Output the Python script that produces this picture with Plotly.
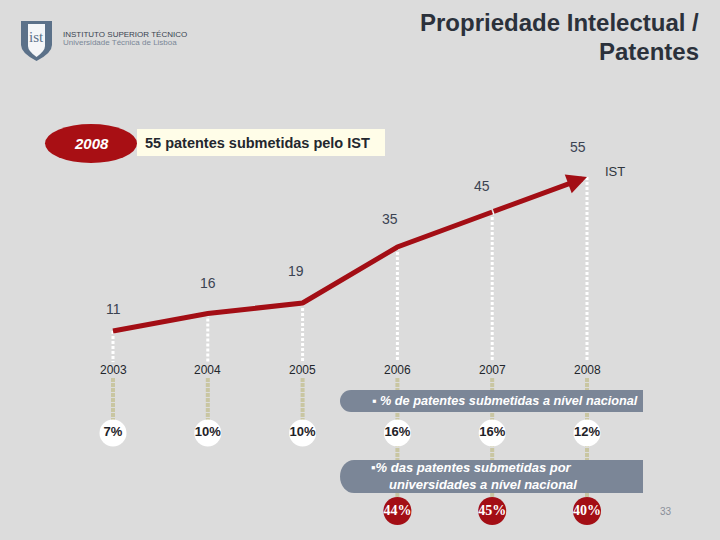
import plotly.graph_objects as go

# ---------------- data ----------------
years = [2003, 2004, 2005, 2006, 2007, 2008]
year_labels = ["2003", "2004", "2005", "2006", "2007", "2008"]
patents_ist = [11, 16, 19, 35, 45, 55]
pct_national = [7, 10, 10, 16, 16, 12]
univ_years = [2006, 2007, 2008]
pct_univ = [44, 45, 40]

# ---------------- layout constants ----------------
W, H = 720, 540
BG = "#dcdcdc"
RED = "#a30e15"
SLATE = "#7b8697"
KHAKI = "#c9c6a2"
FONT = "Liberation Sans, Arial, sans-serif"
NARROW = "Liberation Sans Narrow, Arial Narrow, Liberation Sans, sans-serif"
SERIF = "Liberation Serif, Times New Roman, serif"

# x axis: year -> pixel mapping
X0_PX, DX_PX = 113.0, 94.8
x_range = [2003 - X0_PX / DX_PX, 2003 + (W - X0_PX) / DX_PX]
# y axis: value -> pixel mapping
PX_PER_UNIT, REF_VAL, REF_PX = 3.5, 11.0, 331.0
y_range = [REF_VAL - (H - REF_PX) / PX_PER_UNIT, REF_VAL + REF_PX / PX_PER_UNIT]


def row(py):
    """pixel row -> y value"""
    return REF_VAL + (REF_PX - py) / PX_PER_UNIT


def px(x):
    return x / W


def py(y):
    return 1 - y / H


label_dx = [0, 0, -7, -7, -10, -9]
label_dy = [22, 31, 32, 28, 26, 30]

fig = go.Figure()

# white dotted drop lines (value -> above year label)
xs, ys = [], []
for yr, v in zip(years, patents_ist):
    xs += [yr, yr, None]
    ys += [v, row(362), None]
fig.add_trace(go.Scatter(x=xs, y=ys, mode="lines", hoverinfo="skip",
                         line=dict(color="white", width=3, dash="3px,2px")))

# khaki dotted lines below year labels
xs, ys = [], []
for yr in years:
    end = 498 if yr in univ_years else 420
    xs += [yr, yr, None]
    ys += [row(378), row(end), None]
fig.add_trace(go.Scatter(x=xs, y=ys, mode="lines", hoverinfo="skip",
                         line=dict(color=KHAKI, width=4, dash="4px,1px")))

# main red line (last segment drawn as arrow)
fig.add_trace(go.Scatter(x=years[:-1], y=patents_ist[:-1], mode="lines",
                         hoverinfo="skip", line=dict(color=RED, width=5)))

# national % circles
fig.add_trace(go.Scatter(
    x=years, y=[row(433)] * len(years), mode="markers+text",
    marker=dict(size=27, color="white", line=dict(width=0)),
    text=[f"<b>{p}%</b>" for p in pct_national], textposition="middle center",
    textfont=dict(family=NARROW, size=13, color="#1f2328"), hoverinfo="skip"))

# university % circles
fig.add_trace(go.Scatter(
    x=univ_years, y=[row(511)] * len(univ_years), mode="markers+text",
    marker=dict(size=28, color=RED, line=dict(width=0)),
    text=[f"<b>{p}%</b>" for p in pct_univ], textposition="middle center",
    textfont=dict(family=SERIF, size=14, color="white"), hoverinfo="skip"))

annotations = []
# arrow for the last segment
annotations.append(dict(
    x=years[-1], y=patents_ist[-1], ax=years[-2], ay=patents_ist[-2],
    xref="x", yref="y", axref="x", ayref="y", text="", showarrow=True,
    arrowhead=2, arrowsize=0.8, arrowwidth=5, arrowcolor=RED, standoff=0))

# value labels
for i, (yr, v) in enumerate(zip(years, patents_ist)):
    annotations.append(dict(x=yr, y=v, xref="x", yref="y", text=str(v),
                            showarrow=False, xshift=label_dx[i], yshift=label_dy[i],
                            font=dict(family=FONT, size=14, color="#3b4352")))
annotations.append(dict(x=years[-1], y=patents_ist[-1], xref="x", yref="y",
                        text="IST", showarrow=False, xshift=28, yshift=6,
                        font=dict(family=FONT, size=13, color="#30353d")))

# year labels
for yr, lab in zip(years, year_labels):
    annotations.append(dict(x=yr, y=row(370), xref="x", yref="y", text=lab,
                            showarrow=False,
                            font=dict(family=FONT, size=12, color="#22262c")))

# header / title
annotations += [
    dict(x=px(701), y=py(22), xref="paper", yref="paper", xanchor="right",
         yanchor="middle", showarrow=False,
         text="<b>Propriedade Intelectual /</b>",
         font=dict(family=FONT, size=24, color="#2b313b")),
    dict(x=px(701), y=py(51), xref="paper", yref="paper", xanchor="right",
         yanchor="middle", showarrow=False,
         text="<b>Patentes</b>",
         font=dict(family=FONT, size=24, color="#2b313b")),
    dict(x=px(61), y=py(34), xref="paper", yref="paper", xanchor="left",
         yanchor="middle", showarrow=False, text="INSTITUTO SUPERIOR TÉCNICO",
         font=dict(family=FONT, size=8, color="#3a4350")),
    dict(x=px(61), y=py(43), xref="paper", yref="paper", xanchor="left",
         yanchor="middle", showarrow=False, text="Universidade Técnica de Lisboa",
         font=dict(family=FONT, size=8, color="#7a8797")),
    dict(x=px(36.5), y=py(37), xref="paper", yref="paper", xanchor="center",
         yanchor="middle", showarrow=False, text="ist",
         font=dict(family=SERIF, size=15, color="#5b7189")),
    dict(x=px(91), y=py(144), xref="paper", yref="paper", xanchor="center",
         yanchor="middle", showarrow=False, text="<b><i>2008</i></b>",
         font=dict(family=FONT, size=15, color="white")),
    dict(x=px(143), y=py(143), xref="paper", yref="paper", xanchor="left",
         yanchor="middle", showarrow=False,
         text="<b>55 patentes submetidas pelo IST</b>",
         font=dict(family=FONT, size=14.5, color="#23272e")),
    dict(x=px(370), y=py(401), xref="paper", yref="paper", xanchor="left",
         yanchor="middle", showarrow=False,
         text="<b><i>▪ % de patentes submetidas a nível nacional</i></b>",
         font=dict(family=FONT, size=12.7, color="white")),
    dict(x=px(369), y=py(476), xref="paper", yref="paper", xanchor="left",
         yanchor="middle", align="left", showarrow=False,
         text="<b><i>▪% das patentes submetidas por<br>"
              "     universidades a nível nacional</i></b>",
         font=dict(family=FONT, size=13, color="white")),
    dict(x=px(666), y=py(511), xref="paper", yref="paper", xanchor="center",
         yanchor="middle", showarrow=False, text="33",
         font=dict(family=FONT, size=10, color="#8a8f99")),
]

shapes = [
    # logo outer shield
    dict(type="path", xref="paper", yref="paper", layer="above",
         path=(f"M{px(21)},{py(21)} L{px(52)},{py(21)} L{px(52)},{py(45)} "
               f"Q{px(52)},{py(53)} {px(36.5)},{py(61)} "
               f"Q{px(21)},{py(53)} {px(21)},{py(45)} Z"),
         fillcolor="#5b7189", line=dict(width=0)),
    dict(type="path", xref="paper", yref="paper", layer="above",
         path=(f"M{px(28)},{py(24)} L{px(45)},{py(24)} L{px(45)},{py(46)} "
               f"Q{px(45)},{py(51)} {px(36.5)},{py(57)} "
               f"Q{px(28)},{py(51)} {px(28)},{py(46)} Z"),
         fillcolor="#f4f6f8", line=dict(width=0)),
    # red ellipse
    dict(type="circle", xref="paper", yref="paper", layer="above",
         x0=px(45), x1=px(137), y0=py(163), y1=py(124),
         fillcolor="#a80f14", line=dict(width=0)),
    # cream box
    dict(type="rect", xref="paper", yref="paper", layer="above",
         x0=px(137), x1=px(385), y0=py(156), y1=py(129),
         fillcolor="#fffde8", line=dict(width=0)),
    # bar 1
    dict(type="circle", xref="paper", yref="paper", layer="above",
         x0=px(340), x1=px(362), y0=py(412), y1=py(390),
         fillcolor=SLATE, line=dict(width=0)),
    dict(type="rect", xref="paper", yref="paper", layer="above",
         x0=px(351), x1=px(643), y0=py(412), y1=py(390),
         fillcolor=SLATE, line=dict(width=0)),
    # bar 2
    dict(type="circle", xref="paper", yref="paper", layer="above",
         x0=px(340), x1=px(368), y0=py(493), y1=py(460),
         fillcolor=SLATE, line=dict(width=0)),
    dict(type="rect", xref="paper", yref="paper", layer="above",
         x0=px(354), x1=px(643), y0=py(493), y1=py(460),
         fillcolor=SLATE, line=dict(width=0)),
]

fig.update_layout(
    width=W, height=H, margin=dict(l=0, r=0, t=0, b=0),
    paper_bgcolor=BG, plot_bgcolor=BG, showlegend=False,
    xaxis=dict(range=x_range, visible=False, fixedrange=True),
    yaxis=dict(range=y_range, visible=False, fixedrange=True),
    annotations=annotations, shapes=shapes,
)

fig.write_html("out.html", config={"displayModeBar": False})
